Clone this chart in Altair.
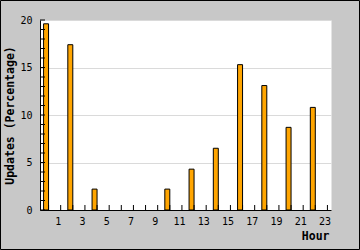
import altair as alt
import pandas as pd

hours = list(range(24))
updates = [19.6, 0, 17.4, 0, 2.2, 0, 0, 0, 0, 0, 2.2, 0,
           4.3, 0, 6.5, 0, 15.3, 0, 13.1, 0, 8.7, 0, 10.8, 0]
x_label_values = [1, 3, 5, 7, 9, 11, 13, 15, 17, 19, 21, 23]
y_label_values = [0, 5, 10, 15, 20]
y_minor = list(range(21))

FONT = "DejaVu Sans Mono"

df = pd.DataFrame({"hour": hours, "updates": updates})
df = df[df["updates"] > 0]
df_x = pd.DataFrame({"hour": hours})
df_y = pd.DataFrame({"v": y_minor})

xscale = alt.Scale(domain=hours, paddingInner=0.59, paddingOuter=0.295)
yscale = alt.Scale(domain=[0, 20], nice=False)

xaxis = alt.Axis(values=x_label_values, title="Hour", labelAngle=0,
                 ticks=False, labelPadding=6, domainColor="black",
                 labelFont=FONT, labelFontSize=10, labelColor="black",
                 titleFont=FONT, titleFontSize=11.5, titleFontWeight="bold",
                 titleColor="black", titleX=289, titleY=26,
                 titleAlign="right", titleBaseline="middle", grid=False)
yaxis = alt.Axis(values=y_label_values, title="Updates (Percentage)",
                 ticks=False, labelPadding=8, domainColor="black",
                 labelFont=FONT, labelFontSize=10, labelColor="black",
                 titleFont=FONT, titleFontSize=11.5, titleFontWeight="bold",
                 titleColor="black", titleX=-30, titleY=95, titleAngle=270,
                 titleAlign="center", titleBaseline="middle",
                 grid=True, gridColor="#dadada", gridWidth=1)

bars = alt.Chart(df).mark_bar(
    fill="#FFA500", stroke="black", strokeWidth=1
).encode(
    x=alt.X("hour:O", scale=xscale, axis=xaxis),
    y=alt.Y("updates:Q", scale=yscale, axis=yaxis),
)

xticks = alt.Chart(df_x).mark_rule(color="black", strokeWidth=1).encode(
    x=alt.X("hour:O", scale=xscale, bandPosition=1, axis=xaxis),
    y=alt.value(185),
    y2=alt.value(190),
)

yticks = alt.Chart(df_y).mark_rule(color="black", strokeWidth=1).encode(
    y=alt.Y("v:Q", scale=yscale, axis=yaxis),
    x=alt.value(0),
    x2=alt.value(5),
)

frame = alt.Chart(pd.DataFrame({"a": [0]})).mark_rect(
    filled=False, stroke="black", strokeWidth=1
).encode(
    x=alt.value(-39.5), x2=alt.value(319.5),
    y=alt.value(-19.5), y2=alt.value(229.5),
)

chart = alt.layer(bars, xticks, yticks, frame).properties(
    width=291, height=190,
    padding={"left": 40, "top": 20, "right": 29, "bottom": 40},
    autosize="none",
    background="#c8c8c8",
).configure_view(fill="white", stroke="transparent")

chart.save("out.html", embed_options={"renderer": "svg", "actions": False})
